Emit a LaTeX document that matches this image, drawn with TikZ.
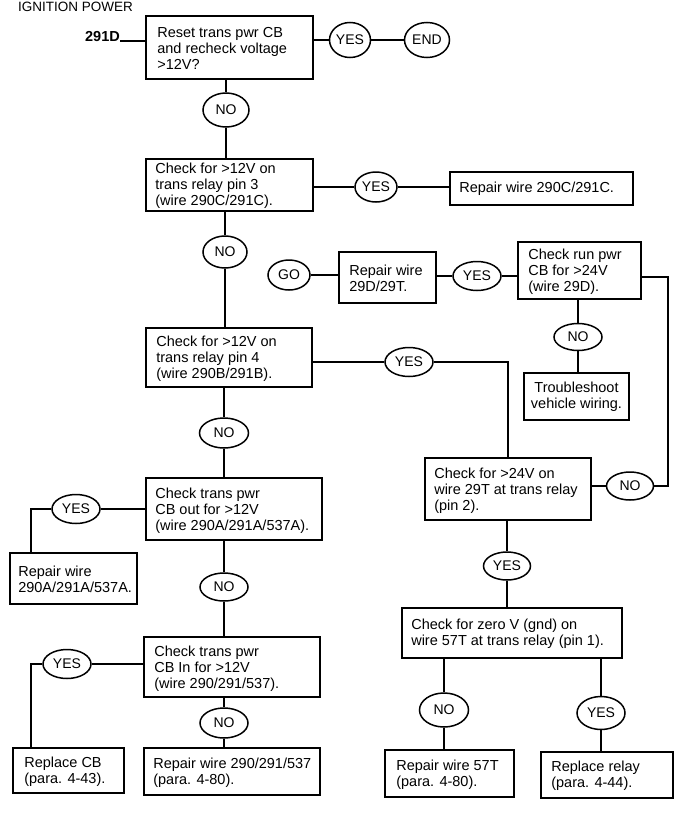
\documentclass[tikz,border=0pt]{standalone}
\usepackage{fontspec}
\setmainfont{Liberation Sans}
\usetikzlibrary{shapes.geometric}
\begin{document}
\begin{tikzpicture}[x=1pt,y=-1pt,
  box/.style={draw, line width=1.8pt, rectangle, inner sep=0pt},
  ov/.style={draw, line width=1.5pt, ellipse, inner sep=0pt, font=\fontsize{14}{15}\selectfont},
  txt/.style={inner sep=0pt, align=left, anchor=west, font=\fontsize{14.5}{16}\selectfont},
  ln/.style={line width=1.4pt}]
\useasboundingbox (0,0) rectangle (684,814);
\clip (0,0) rectangle (684,814);

% title and entry
\node[inner sep=0pt, anchor=base west, font=\fontsize{13.5}{15}\selectfont] (title) at (18,11) {IGNITION POWER};
\node[inner sep=0pt, anchor=base east, font=\bfseries\fontsize{14.5}{15}\selectfont] (l291) at (120,41) {291D};

% left column boxes
\node[box, minimum width=167pt, minimum height=63pt] (b1) at (229.5,47.5) {};
\node[txt] (t1) at ([xshift=12pt,yshift=-1pt]b1.west) {Reset trans pwr CB\\and recheck voltage\\>12V?};
\node[box, minimum width=167pt, minimum height=52pt] (b2) at (229.5,185) {};
\node[txt] (t2) at ([xshift=10pt,yshift=-1pt]b2.west) {Check for >12V on\\trans relay pin 3\\(wire 290C/291C).};
\node[box, minimum width=166pt, minimum height=59pt] (b3) at (229,357.5) {};
\node[txt] (t3) at ([xshift=11pt,yshift=-1.5pt]b3.west) {Check for >12V on\\trans relay pin 4\\(wire 290B/291B).};
\node[box, minimum width=176pt, minimum height=62pt] (b4) at (234,509) {};
\node[txt] (t4) at ([xshift=10pt,yshift=-1.5pt]b4.west) {Check trans pwr\\CB out for >12V\\(wire 290A/291A/537A).};
\node[box, minimum width=176pt, minimum height=60pt] (b5) at (232,667) {};
\node[txt] (t5) at ([xshift=11pt,yshift=-1.5pt]b5.west) {Check trans pwr\\CB In for >12V\\(wire 290/291/537).};
\node[box, minimum width=176pt, minimum height=47pt] (r290) at (232,771.5) {};
\node[txt] (tr290) at ([xshift=10pt,yshift=-1pt]r290.west) {Repair wire 290/291/537\\(para. 4-80).};
\node[box, minimum width=127pt, minimum height=51pt] (ra) at (73.5,578.5) {};
\node[txt] (tra) at ([xshift=9pt,yshift=-1pt]ra.west) {Repair wire\\290A/291A/537A.};
\node[box, minimum width=111pt, minimum height=45pt] (rcb) at (68.5,770.5) {};
\node[txt] (trcb) at ([xshift=12pt,yshift=-1pt]rcb.west) {Replace CB\\(para. 4-43).};

% right side boxes
\node[box, minimum width=183pt, minimum height=33pt] (r290c) at (541.5,188.5) {};
\node[txt] (tr290c) at ([xshift=10pt]r290c.west) {Repair wire 290C/291C.};
\node[box, minimum width=97pt, minimum height=51pt] (r29d) at (387.5,277.5) {};
\node[txt] (tr29d) at ([xshift=11pt,yshift=-1pt]r29d.west) {Repair wire\\29D/29T.};
\node[box, minimum width=123pt, minimum height=57pt] (rp) at (579.5,270.5) {};
\node[txt] (trp) at ([xshift=11pt,yshift=-1pt]rp.west) {Check run pwr\\CB for >24V\\(wire 29D).};
\node[box, minimum width=105pt, minimum height=47pt, align=center, font=\fontsize{14.5}{16}\selectfont] (tr) at (576.5,396.5) {Troubleshoot\\vehicle wiring.};
\node[box, minimum width=166pt, minimum height=62pt] (b6) at (508,489) {};
\node[txt] (t6) at ([xshift=10pt,yshift=-1.5pt]b6.west) {Check for >24V on\\wire 29T at trans relay\\(pin 2).};
\node[box, minimum width=220pt, minimum height=50pt] (b7) at (512,633) {};
\node[txt] (t7) at ([xshift=10pt,yshift=-1pt]b7.west) {Check for zero V (gnd) on\\wire 57T at trans relay (pin 1).};
\node[box, minimum width=129pt, minimum height=47pt] (r57) at (449.5,773.5) {};
\node[txt] (tr57) at ([xshift=12pt,yshift=-1pt]r57.west) {Repair wire 57T\\(para. 4-80).};
\node[box, minimum width=132pt, minimum height=46pt] (rr) at (607,775) {};
\node[txt] (trr) at ([xshift=11pt,yshift=-1pt]rr.west) {Replace relay\\(para. 4-44).};

% ovals
\node[ov, minimum width=41pt, minimum height=35pt] (y1) at (350,40) {YES};
\node[ov, minimum width=45pt, minimum height=35pt] (end) at (427,40) {END};
\node[ov, minimum width=46pt, minimum height=34pt] (n1) at (226,110) {NO};
\node[ov, minimum width=42pt, minimum height=30pt] (y2) at (376,187) {YES};
\node[ov, minimum width=44pt, minimum height=32pt] (n2) at (225,252) {NO};
\node[ov, minimum width=42pt, minimum height=30pt] (go) at (289,275) {GO};
\node[ov, minimum width=48pt, minimum height=29pt] (y3) at (477,276) {YES};
\node[ov, minimum width=48pt, minimum height=27pt] (n4) at (578,337) {NO};
\node[ov, minimum width=48pt, minimum height=29pt] (y4) at (409,362) {YES};
\node[ov, minimum width=49pt, minimum height=30pt] (n3) at (224,433) {NO};
\node[ov, minimum width=48pt, minimum height=29pt] (y5) at (76,509) {YES};
\node[ov, minimum width=47pt, minimum height=28pt] (n5) at (630,486) {NO};
\node[ov, minimum width=47pt, minimum height=28pt] (y7) at (507,566) {YES};
\node[ov, minimum width=48pt, minimum height=28pt] (n6) at (224,587) {NO};
\node[ov, minimum width=48pt, minimum height=29pt] (y6) at (67,664) {YES};
\node[ov, minimum width=48pt, minimum height=30pt] (n7) at (224,723) {NO};
\node[ov, minimum width=49pt, minimum height=34pt] (n8) at (444,710) {NO};
\node[ov, minimum width=48pt, minimum height=33pt] (y9) at (601,713) {YES};

\coordinate (k1) at (668,277);

% connectors
\draw[ln] (l291.base east) -- (l291.base east -| b1.west);
\draw[ln] (b1.east |- y1) -- (y1.west);
\draw[ln] (y1.east) -- (end.west);
\draw[ln] (n1 |- b1.south) -- (n1.north);
\draw[ln] (n1.south) -- (n1 |- b2.north);
\draw[ln] (b2.east |- y2) -- (y2.west);
\draw[ln] (y2.east) -- (y2 -| r290c.west);
\draw[ln] (n2 |- b2.south) -- (n2.north);
\draw[ln] (n2.south) -- (n2 |- b3.north);
\draw[ln] (go.east) -- (go -| r29d.west);
\draw[ln] (r29d.east |- y3) -- (y3.west);
\draw[ln] (y3.east) -- (y3 -| rp.west);
\draw[ln] (n4 |- rp.south) -- (n4.north);
\draw[ln] (n4.south) -- (n4 |- tr.north);
\draw[ln] (k1 -| rp.east) -- (k1) |- (n5.east);
\draw[ln] (b6.east |- n5) -- (n5.west);
\draw[ln] (b3.east |- y4) -- (y4.west);
\draw[ln] (y4.east) -| (b6.north);
\draw[ln] (y7 |- b6.south) -- (y7.north);
\draw[ln] (y7.south) -- (y7 |- b7.north);
\draw[ln] (n8 |- b7.south) -- (n8.north);
\draw[ln] (n8.south) -- (n8 |- r57.north);
\draw[ln] (y9 |- b7.south) -- (y9.north);
\draw[ln] (y9.south) -- (y9 |- rr.north);
\draw[ln] (n3 |- b3.south) -- (n3.north);
\draw[ln] (n3.south) -- (n3 |- b4.north);
\draw[ln] (b4.west |- y5) -- (y5.east);
\draw[ln] (y5.west) -| ([xshift=22pt]ra.north west);
\draw[ln] (n6 |- b4.south) -- (n6.north);
\draw[ln] (n6.south) -- (n6 |- b5.north);
\draw[ln] (b5.west |- y6) -- (y6.east);
\draw[ln] (y6.west) -| ([xshift=19pt]rcb.north west);
\draw[ln] (n7 |- b5.south) -- (n7.north);
\draw[ln] (n7.south) -- (n7 |- r290.north);
\end{tikzpicture}
\end{document}
